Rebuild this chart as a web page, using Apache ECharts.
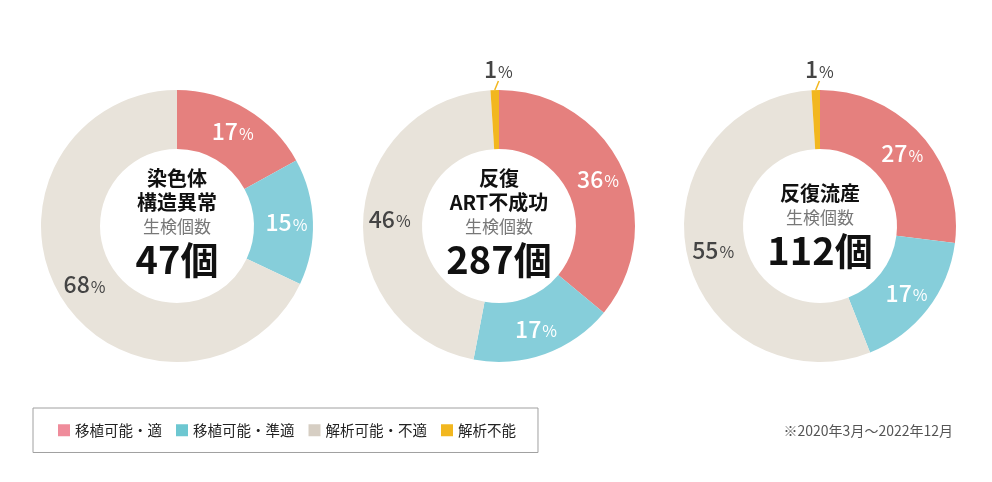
<!DOCTYPE html>
<html>
<head>
<meta charset="utf-8">
<title>生検個数</title>
<script src="https://cdn.jsdelivr.net/npm/echarts@6/dist/echarts.min.js"></script>
<style>
  html, body { margin: 0; padding: 0; background: #fff; }
  #chart { width: 992px; height: 482px; }
</style>
</head>
<body>
<div id="chart"></div>
<script>
// 凡例カテゴリ
var categories = ['移植可能・適', '移植可能・準適', '解析可能・不適', '解析不能'];
// 円グラフの色と凡例の色（凡例の方が少し濃い）
var pieColors = ['#e5807e', '#86ceda', '#e8e3da', '#f2b71f'];
var legendColors = ['#ef8c9b', '#6dc7d1', '#d6cec3', '#f2b71f'];

// 各グラフの値（％）
var chromosomeVals = [17, 15, 68];
var artVals = [36, 17, 46, 1];
var miscarriageVals = [27, 17, 55, 1];

// 中央テキスト
var titles = [['染色体', '構造異常'], ['反復', 'ART不成功'], ['反復流産']];
var counts = [47, 287, 112];

var FONT = '"Noto Sans CJK JP", "Noto Sans", sans-serif';
var centersX = [177, 499, 820];
var centerY = 226;

function makeData(vals) {
  return vals.map(function (v, i) {
    var item = {
      name: categories[i],
      value: v,
      itemStyle: { color: pieColors[i] },
      label: { color: i < 2 ? '#fff' : '#444' }
    };
    if (i === 3) {
      item.label = { position: 'outside', color: '#444' };
      item.labelLine = { show: true, length: 10, length2: 0, lineStyle: { color: pieColors[3], width: 1.5 } };
    }
    return item;
  });
}

var allVals = [chromosomeVals, artVals, miscarriageVals];
var series = allVals.map(function (vals, k) {
  return {
    type: 'pie',
    center: [centersX[k], centerY],
    radius: [77, 136],
    startAngle: 90,
    clockwise: true,
    silent: true,
    avoidLabelOverlap: false,
    data: makeData(vals),
    label: {
      show: true,
      position: 'inside',
      fontFamily: FONT,
      formatter: function (p) { return '{n|' + p.value + '}{p|%}'; },
      rich: {
        n: { fontSize: 23, fontWeight: 500, fontFamily: FONT },
        p: { fontSize: 16, fontFamily: FONT, padding: [4, 0, 0, 1] }
      }
    },
    labelLine: { show: false },
    labelLayout: function (p) {
      if (p.dataIndex === 3 && p.labelLinePoints) {
        var e = p.labelLinePoints[p.labelLinePoints.length - 1];
        return { x: e[0] + 4, y: e[1] + 1, align: 'center', verticalAlign: 'bottom' };
      }
      return {};
    }
  };
});

var centerTitles = titles.map(function (t, k) {
  var lines = t.map(function (s) { return '{a|' + s + '}'; });
  lines.push('{b|生検個数}');
  lines.push('{c|' + counts[k] + '個}');
  return {
    text: lines.join('\n'),
    left: centersX[k],
    top: t.length === 2 ? 166 : 181,
    textAlign: 'center',
    padding: 0,
    textStyle: {
      rich: {
        a: { fontSize: 20, fontWeight: 'bold', color: '#111', lineHeight: 24, fontFamily: FONT, align: 'center' },
        b: { fontSize: 17, fontWeight: 'normal', color: '#777', lineHeight: 26, fontFamily: FONT, align: 'center' },
        c: { fontSize: 38, fontWeight: 'bold', color: '#111', lineHeight: 40, fontFamily: FONT, align: 'center' }
      }
    }
  };
});

centerTitles.push({
  text: '※2020年3月～2022年12月',
  right: 39,
  top: 424,
  padding: 0,
  textStyle: { fontSize: 14, fontWeight: 'normal', color: '#555', fontFamily: FONT }
});

var option = {
  backgroundColor: '#fff',
  animation: false,
  title: centerTitles,
  legend: {
    left: 33,
    top: 408,
    orient: 'horizontal',
    padding: [15, 22, 15, 25],
    borderColor: '#a0a0a0',
    borderWidth: 1,
    borderRadius: 0,
    itemWidth: 12,
    itemHeight: 12,
    itemGap: 14,
    selectedMode: false,
    icon: 'rect',
    textStyle: { fontSize: 14.5, color: '#222', fontFamily: FONT },
    data: categories.map(function (c, i) {
      return { name: c, itemStyle: { color: legendColors[i] } };
    })
  },
  series: series
};

var chart = echarts.init(document.getElementById('chart'));
chart.setOption(option);
</script>
</body>
</html>
